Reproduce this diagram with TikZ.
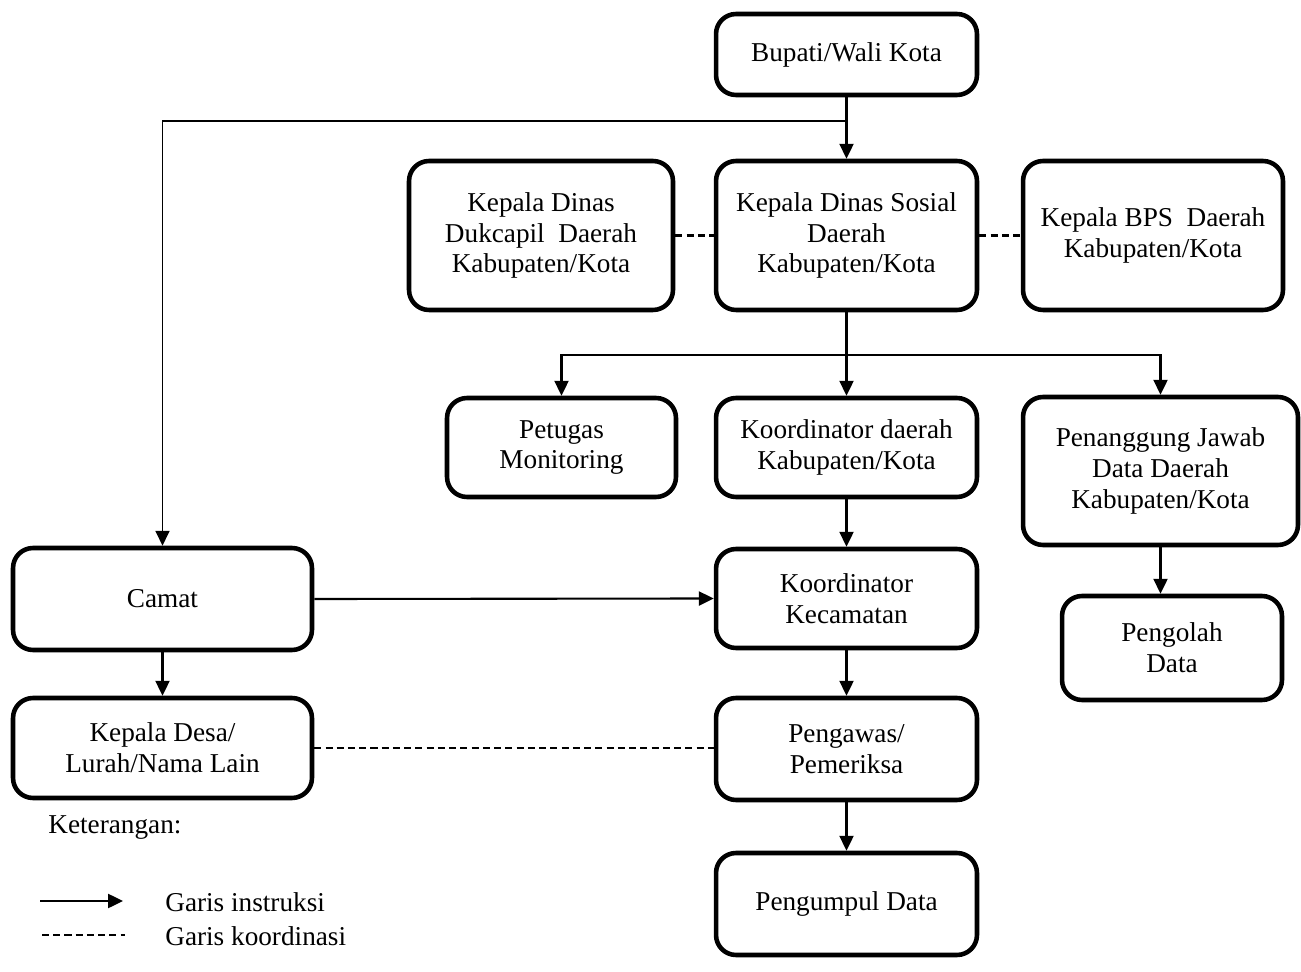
\documentclass[tikz,border=0pt]{standalone}
\usepackage{fontspec}
\setmainfont{Liberation Serif}
\usetikzlibrary{arrows.meta}
\tikzset{
box/.style={
	  draw, line width=2.6pt, rounded corners=0.4cm,
	    align=center, inner sep=0pt, font=\fontsize{15.5}{17.6}\selectfont},
instr/.style={line width=1.2pt, -{Triangle[length=8.5pt,width=8pt]}},
koord/.style={line width=1.2pt, dash pattern=on 4pt off 2.4pt},
legtext/.style={anchor=west, inner sep=0pt, font=\fontsize{15.5}{17.6}\selectfont}
}

\begin{document}
\begin{tikzpicture}[x=0.02cm, y=-0.02cm]
	\useasboundingbox (0,0) rectangle (1301,972);
	\node[box, minimum width=5.22cm, minimum height=1.62cm] (bupati) at (846.5,54.5) {Bupati/Wali Kota};
	\node[box, minimum width=5.28cm, minimum height=2.98cm] (dukcapil) at (541,235.5) {Kepala Dinas\\Dukcapil\ \ Daerah\\Kabupaten/Kota};
	\node[box, minimum width=5.22cm, minimum height=2.98cm] (sosial) at (846.5,235.5) {Kepala Dinas Sosial\\Daerah\\Kabupaten/Kota};
	\node[box, minimum width=5.2cm, minimum height=2.98cm] (bps) at (1153,235.5) {Kepala BPS\ \ Daerah\\Kabupaten/Kota};
	\node[box, minimum width=4.58cm, minimum height=1.98cm] (petugas) at (561.5,447.5) {Petugas\\Monitoring};
	\node[box, minimum width=5.22cm, minimum height=1.98cm] (koorda) at (846.5,447.5) {Koordinator daerah\\Kabupaten/Kota};
	\node[box, minimum width=5.5cm, minimum height=2.96cm] (penanggung) at (1160.5,471) {Penanggung Jawab\\Data Daerah\\Kabupaten/Kota};
	\node[box, minimum width=5.98cm, minimum height=2.04cm] (camat) at (162.5,599) {Camat};
	\node[box, minimum width=5.22cm, minimum height=1.98cm] (koorkec) at (846.5,598.5) {Koordinator\\Kecamatan};
	\node[box, minimum width=4.4cm, minimum height=2.08cm] (pengolah) at (1172,648) {Pengolah\\Data};
	\node[box, minimum width=5.98cm, minimum height=2.0cm] (kades) at (162.5,748) {Kepala Desa/\\Lurah/Nama Lain};
	\node[box, minimum width=5.22cm, minimum height=2.04cm] (pengawas) at (846.5,749) {Pengawas/\\Pemeriksa};
	\node[box, minimum width=5.22cm, minimum height=2.04cm] (pengumpul) at (846.5,904) {Pengumpul Data};

	\coordinate (split) at (846.5,121);
	\coordinate (fork) at (846.5,355);
	\draw[instr] (bupati.south) -- (sosial.north);
	\draw[instr, line width=0.9pt] (split) -| (camat.north);
	\draw[instr] (sosial.south) -- (koorda.north);
	\draw[instr] (fork) -| (petugas.north);
	\draw[instr] (fork) -| (penanggung.north);
	\draw[instr] (penanggung.south) -- (penanggung.south |- pengolah.north);
	\draw[instr] (koorda) -- (koorkec);
	\draw[instr] (koorkec) -- (pengawas);
	\draw[instr] (pengawas) -- (pengumpul);
	\draw[instr] (camat.east) -- (koorkec.west);
	\draw[instr] (camat) -- (kades);
	\draw[koord] (dukcapil) -- (sosial);
	\draw[koord] (sosial) -- (bps);
	\draw[koord] (kades.east) -- (pengawas.west |- kades.east);

	\node[legtext] (ket) at (48,828) {Keterangan:};
	\node[legtext] (leginstr) at (165,902) {Garis instruksi};
	\node[legtext] (legkoord) at (165,936) {Garis koordinasi};
	\coordinate (ia) at (40,901);
	\coordinate (ib) at (123,901);
	\coordinate (ka) at (42,935);
	\coordinate (kb) at (125,935);
	\draw[instr] (ia) -- (ib);
	\draw[koord] (ka) -- (kb);
\end{tikzpicture}
\end{document}
